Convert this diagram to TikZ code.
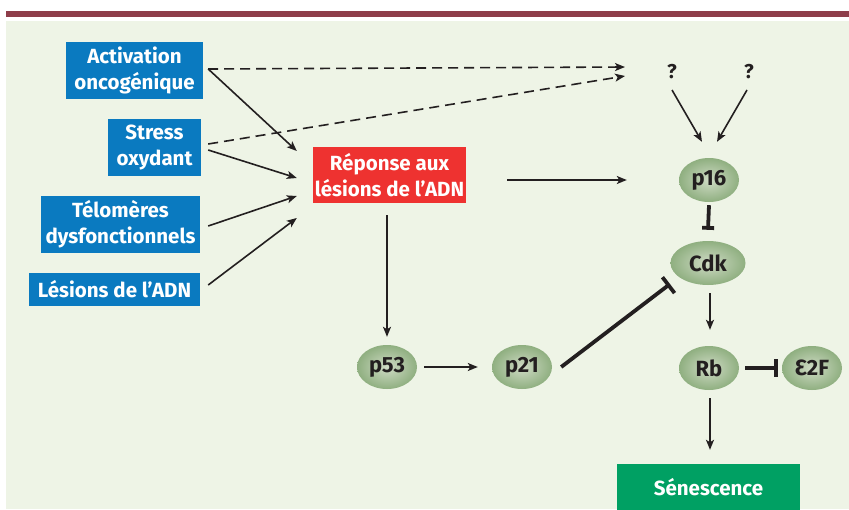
\documentclass[tikz,border=0pt]{standalone}
\usepackage{fontspec}
\setmainfont{Fira Sans}
\usetikzlibrary{arrows.meta,calc,shapes.geometric}
\definecolor{panel}{HTML}{EEF4E6}
\definecolor{maroon}{HTML}{8E3D4A}
\definecolor{bblue}{HTML}{0A7AC0}
\definecolor{bred}{HTML}{EE3230}
\definecolor{bgreen}{HTML}{00A063}
\definecolor{ink}{HTML}{231F20}
\definecolor{elin}{HTML}{CFDBC5}
\definecolor{elout}{HTML}{8FAF80}
\tikzset{
  x=1pt, y=-1pt,
  box/.style={rectangle, inner sep=0pt, text=white, align=center,
    font=\fontsize{20.5}{26}\selectfont\bfseries},
  prot/.style={ellipse, inner sep=0pt, minimum width=60pt, minimum height=44pt,
    shading=radial, inner color=elin, outer color=elout, text=ink,
    font=\fontsize{22}{24}\selectfont\bfseries},
  qm/.style={inner sep=0pt, text=ink, font=\fontsize{20}{22}\selectfont\bfseries},
  arr/.style={draw=ink, line width=1.6pt, -{Stealth[length=10pt,width=8pt,inset=2.5pt]}},
  darr/.style={arr, dash pattern=on 10pt off 6pt},
  inh/.style={draw=ink, line width=3.8pt, -{Bar[width=#1,line width=3.8pt]}},
}
\begin{document}
\begin{tikzpicture}
\useasboundingbox (0,0) rectangle (849,509);
\fill[white] (0,0) rectangle (849,509);
\fill[maroon] (6,11) rectangle (849,17);
\fill[panel] (6,21) rectangle (849,509);

\node[box, fill=bblue, minimum width=137pt, minimum height=57pt] (act) at (134.5,70.5) {Activation\\oncogénique};
\node[box, fill=bblue, minimum width=93pt, minimum height=57pt] (stress) at (154.5,147.5) {Stress\\oxydant};
\node[box, fill=bblue, minimum width=159pt, minimum height=57pt] (telo) at (120.5,224.5) {Télomères\\dysfonctionnels};
\node[box, fill=bblue, minimum width=171pt, minimum height=33pt] (lesion) at (114.5,289.5) {Lésions de l’ADN};
\node[box, fill=bred, minimum width=153pt, minimum height=56pt] (rep) at (389.5,175) {Réponse aux\\lésions de l’ADN};
\node[box, fill=bgreen, minimum width=183pt, minimum height=47pt] (sen) at (708.5,487.5) {Sénescence};

\node[prot] (p53) at (387,367) {p53};
\node[prot] (p21) at (522,367) {p21};
\node[prot] (p16) at (709,180) {p16};
\node[prot, minimum width=75pt] (cdk) at (708,263) {Cdk};
\node[prot] (rb) at (709,368) {Rb};
\node[prot] (e2f) at (812,368) {Ɛ2F};

\node[qm] (q1) at (672,72) {?};
\node[qm] (q2) at (749,72) {?};

% inputs to DNA damage response
\draw[arr] ($(act.east)+(5,-1.5)$) -- ($(rep.west)+(-16,-24)$);
\draw[arr] ($(stress.east)+(7,2.5)$) -- ($(rep.west)+(-16,3)$);
\draw[arr] ($(telo.east)+(8,1.5)$) -- ($(rep.west)+(-16,21)$);
\draw[arr] ($(lesion.east)+(8,-4.5)$) -- ($(rep.west)+(-16,43)$);

% dashed to ?
\draw[darr] ($(act.east)+(5,-1.5)$) -- ($(q1.center)+(-47,-5)$);
\draw[darr] ($(stress.east)+(7,-3.5)$) -- ($(q1.center)+(-47,4)$);

% ? to p16
\draw[arr] ($(q1.center)+(0,18)$) -- ($(p16.north)+(-7,-16)$);
\draw[arr] ($(q2.center)+(-2,18)$) -- ($(p16.north)+(8,-16)$);

\draw[arr] ($(rep.east)+(41,5)$) -- ($(p16.west)+(-52,0)$);
\draw[arr] ($(p53.north |- rep.south)+(0,12)$) -- ($(p53.north)+(0,-8)$);
\draw[arr] ($(p53.east)+(7,0)$) -- ($(p21.west)+(-14,0)$);

\draw[inh=12pt] ($(p16.south)+(0,3)$) -- ($(cdk.north)+(0,-11)$);
\draw[arr] ($(cdk.south)+(2,8)$) -- ($(rb.north)+(1,-16)$);
\draw[inh=20pt] ($(p21.east)+(9,0)$) -- ($(cdk.center)+(-38,21)$);
\draw[inh=18pt] ($(rb.east)+(6,0)$) -- ($(e2f.west)+(-4,0)$);
\draw[arr] ($(rb.south)+(1,8)$) -- ($(sen.north)+(1.5,-14)$);
\end{tikzpicture}
\end{document}
